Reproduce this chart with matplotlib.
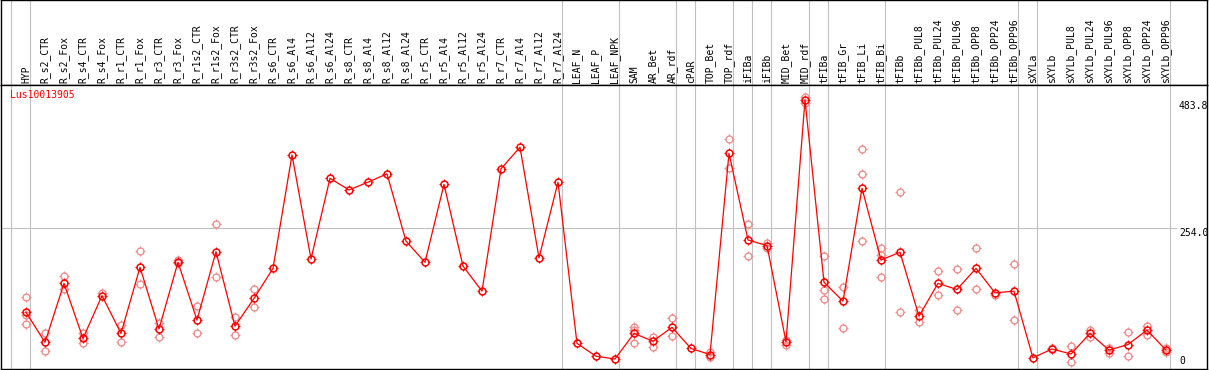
import numpy as np
import matplotlib.pyplot as plt
from matplotlib.path import Path

samples = ["HYP", "R_s2_CTR", "R_s2_Fox", "R_s4_CTR", "R_s4_Fox", "R_r1_CTR", "R_r1_Fox",
           "R_r3_CTR", "R_r3_Fox", "R_r1s2_CTR", "R_r1s2_Fox", "R_r3s2_CTR", "R_r3s2_Fox",
           "R_s6_CTR", "R_s6_Al4", "R_s6_Al12", "R_s6_Al24", "R_s8_CTR", "R_s8_Al4",
           "R_s8_Al12", "R_s8_Al24", "R_r5_CTR", "R_r5_Al4", "R_r5_Al12", "R_r5_Al24",
           "R_r7_CTR", "R_r7_Al4", "R_r7_Al12", "R_r7_Al24", "LEAF_N", "LEAF_P", "LEAF_NPK",
           "SAM", "AR_Bet", "AR_rdf", "cPAR", "TOP_Bet", "TOP_rdf", "iFIBa", "iFIBb",
           "MID_Bet", "MID_rdf", "tFIBa", "tFIB_Gr", "tFIB_Li", "tFIB_Bi", "tFIBb",
           "tFIBb_PUL8", "tFIBb_PUL24", "tFIBb_PUL96", "tFIBb_OPP8", "tFIBb_OPP24",
           "tFIBb_OPP96", "sXYLa", "sXYLb", "sXYLb_PUL8", "sXYLb_PUL24", "sXYLb_PUL96",
           "sXYLb_OPP8", "sXYLb_OPP24", "sXYLb_OPP96"]

means = [102, 48, 154, 55, 132, 64, 183, 72, 192, 88, 211, 77, 127,
         181, 385, 198, 343, 322, 336, 351, 230, 192, 332, 185, 140,
         360, 399, 200, 336, 46, 23, 18,
         64, 50, 75, 37, 26, 388, 232, 222, 49, 483.8,
         156, 122, 325, 196, 210,
         95, 154, 143, 181, 137, 140,
         20, 36, 27, 64, 34, 44, 70, 34]

replicates = [[129, 81, 97], [64, 32], [167, 143], [64, 47], [137], [79, 48], [213, 153],
              [83, 58], [196, 190], [113, 64], [260, 165], [93, 62], [143, 111],
              [], [], [], [], [], [], [], [], [], [], [], [],
              [], [], [], [], [], [], [],
              [75, 71, 46], [58, 40], [92, 59], [], [31, 22], [413, 361], [260, 203], [226, 217],
              [52, 43], [489, 479],
              [203, 142, 126], [147, 74], [395, 350, 231], [218, 205, 166], [318, 103],
              [106, 85], [176, 133], [179, 106], [217, 143], [133], [188, 89],
              [], [38], [41, 12], [71, 57], [38, 29], [66, 23], [77, 61], [38, 30]]

# vertical separators sit just after these columns
group_ends = [-1, 0, 28, 31, 34, 35, 37, 38, 39, 41, 42, 45, 52, 53, 60]
y_labels = [483.8, 254.0, 0]

W, H = 1209, 370
fig = plt.figure(figsize=(W / 100, H / 100), dpi=100)
mono = "DejaVu Sans Mono"

# little ticks sticking out of the circle marker
ticks = Path([(0, 0.7), (0, 1.25), (0, -0.7), (0, -1.25),
              (0.7, 0), (1.25, 0), (-0.7, 0), (-1.25, 0)],
             [Path.MOVETO, Path.LINETO] * 4)

x = np.arange(len(samples))
xlim = ((1 - 26) / 19, (1207 - 26) / 19)
ymax = 483.8 * (369 - 85) / (369 - 100)

# header with rotated sample names
hax = fig.add_axes([1 / W, 1 - 85 / H, 1206 / W, 85 / H])
hax.set_xlim(*xlim)
hax.set_ylim(0, 1)
hax.set_xticks([])
hax.set_yticks([])
for s in hax.spines.values():
    s.set_linewidth(1.0)
for i, name in enumerate(samples):
    hax.annotate(name, xy=(i, 0), xytext=(0, 1.5), textcoords="offset points",
                 rotation=90, ha="center", va="bottom", fontsize=7, family=mono)

# plot area
ax = fig.add_axes([1 / W, 1 / H, 1206 / W, 284 / H])
ax.set_xlim(*xlim)
ax.set_ylim(0, ymax)
ax.set_xticks([])
ax.set_yticks([])
for s in ax.spines.values():
    s.set_linewidth(1.0)

for g in group_ends:
    hax.axvline(g + 0.22, color="#c0c0c0", lw=0.8, zorder=0)
    ax.axvline(g + 0.22, color="#c0c0c0", lw=0.8, zorder=0)
ax.axhline(254.0, xmax=(1176 - 1) / 1206, color="#c0c0c0", lw=0.8, zorder=0)

rx = [i for i, r in enumerate(replicates) for _ in r]
ry = [v for r in replicates for v in r]
ax.plot(rx, ry, ls="none", marker="o", ms=5, mfc="none", mec="#ee8f8f", mew=1.0, zorder=2)
ax.plot(rx, ry, ls="none", marker=ticks, ms=7, mec="#ee8f8f", mew=0.8, zorder=2)

ax.plot(x, means, color="red", lw=0.9, zorder=3)
ax.plot(x, means, ls="none", marker="o", ms=5, mfc="none", mec="red", mew=1.1, zorder=4)
ax.plot(x, means, ls="none", marker=ticks, ms=7, mec="red", mew=0.8, zorder=4)

for v in y_labels:
    if v == 0:
        ax.annotate("0", xy=(60.68, v), xytext=(0, 2.5), textcoords="offset points",
                    ha="left", va="bottom", fontsize=7, family=mono)
    else:
        ax.annotate(f"{v:.1f}", xy=(60.68, v), xytext=(0, -0.5), textcoords="offset points",
                    ha="left", va="top", fontsize=7, family=mono)

ax.annotate("Lus10013905", xy=(0, 1), xycoords="axes fraction", xytext=(6.5, -3.5),
            textcoords="offset points", ha="left", va="top", fontsize=7, family=mono,
            color="red")

fig.savefig("out.png", dpi=100)
